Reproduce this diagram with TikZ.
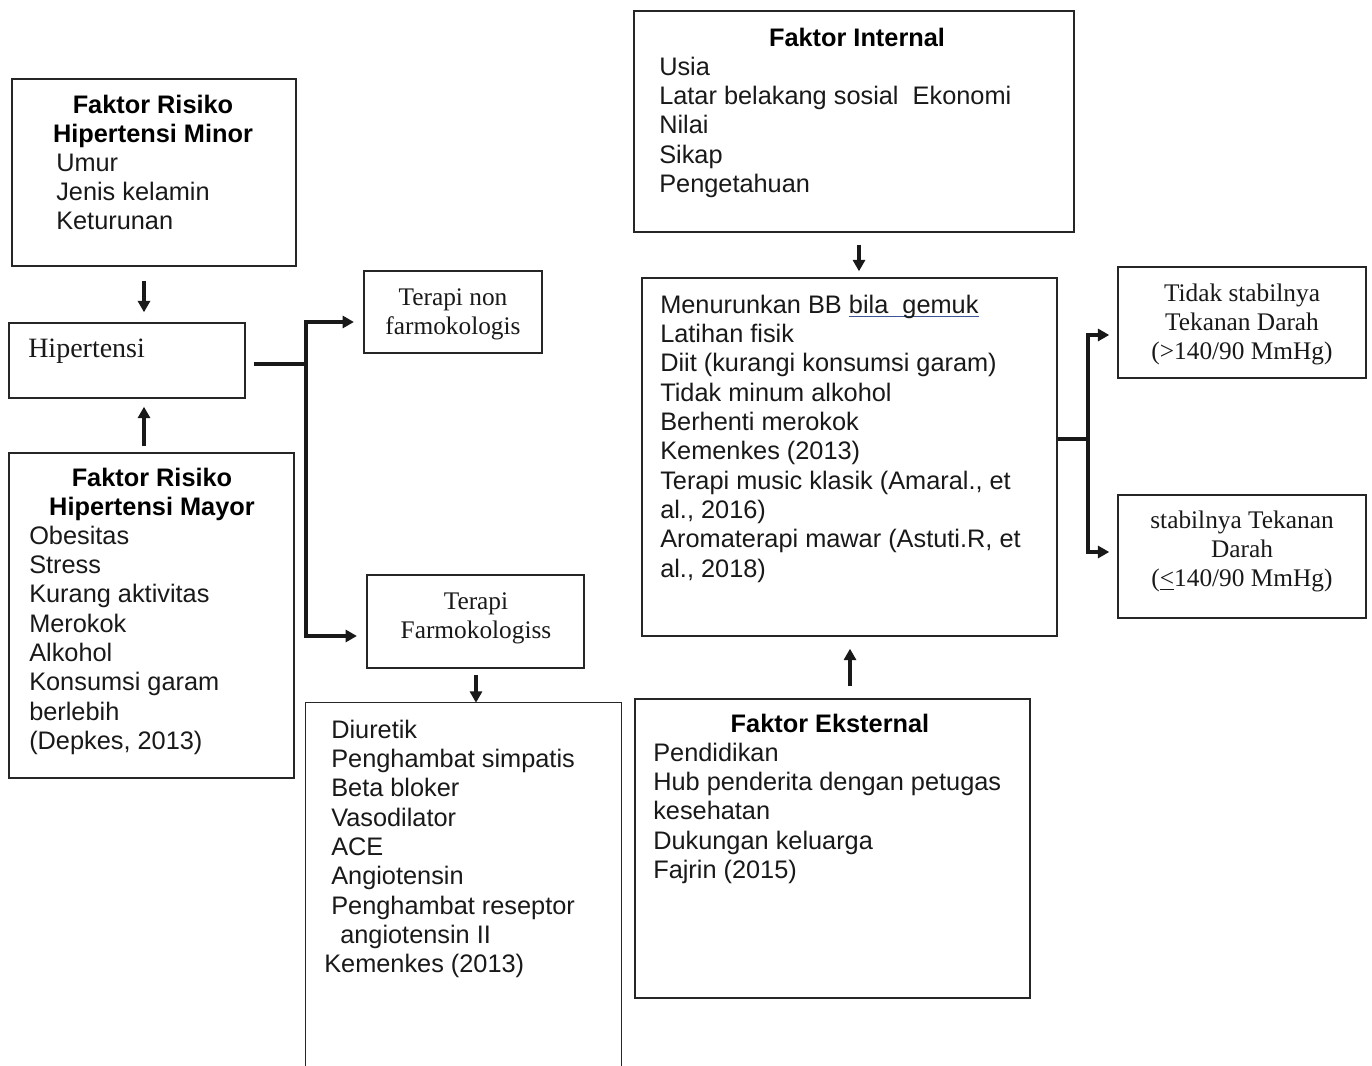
\documentclass[tikz,border=0pt]{standalone}
\usepackage{fontspec}
\setmainfont{Liberation Serif}
\newfontfamily\arialf{Liberation Sans}
\usetikzlibrary{arrows.meta,fit}
\definecolor{ulc}{RGB}{60,85,150}
\newcommand\fs{\rule{0pt}{15.4pt}}
\newcommand\ulbl[1]{\setbox0\hbox{#1}\rlap{\color{ulc}\rule[-3pt]{\wd0}{1.1pt}}#1}
\begin{document}
\begin{tikzpicture}[x=0.75pt,y=-0.75pt,
  box/.style={draw=black!85, line width=1.1pt, inner sep=0pt},
  sa/.style={font=\arialf\fontsize{19}{22}\selectfont, inner sep=0pt, text=black!90},
  sab/.style={font=\arialf\bfseries\fontsize{19}{22}\selectfont, inner sep=0pt, text=black},
  se/.style={font=\fontsize{19}{22}\selectfont, inner sep=0pt, text=black!90},
  tl/.style={anchor=north west, align=left},
  tc/.style={anchor=north, align=center},
  conn/.style={line width=2.4pt, draw=black!90},
  arr/.style={conn, -{Triangle[length=8.5pt,width=9pt]}}]
\path[fill=white, use as bounding box] (0,0) rectangle (1372,1066);

% boxes
\node[box, fit={(12,79) (296,266)}] (minor) {};
\node[box, fit={(9,323) (245,398)}] (hip) {};
\node[box, fit={(9,453) (294,778)}] (mayor) {};
\node[box, fit={(364,271) (542,353)}] (tn) {};
\node[box, fit={(367,575) (584,668)}] (tf) {};
\node[inner sep=0pt, fit={(306,703) (621,1066)}] (drug) {};
\draw[draw=black!85, line width=1.1pt] ([yshift=-2pt]drug.south west) -- (drug.north west) -- (drug.north east) -- ([yshift=-2pt]drug.south east);
\node[box, fit={(634,11) (1074,232)}] (intl) {};
\node[box, fit={(642,278) (1057,636)}] (mid) {};
\node[box, fit={(635,699) (1030,998)}] (ext) {};
\node[box, fit={(1118,267) (1366,378)}] (ts) {};
\node[box, fit={(1118,495) (1366,618)}] (st) {};

% texts
\node[sab,tc] (minorT) at (153,92.5) {\fs Faktor Risiko\\Hipertensi Minor};
\node[sa,tl] (minorL) at (56,150.5) {\fs Umur\\Jenis kelamin\\Keturunan};
\node[se,tl,font=\fontsize{21}{24}\selectfont] (hipT) at (28,336.5) {\fs Hipertensi};
\node[sab,tc] (mayorT) at (152,465.5) {\fs Faktor Risiko\\Hipertensi Mayor};
\node[sa,tl] (mayorL) at (29,523.5) {\fs Obesitas\\Stress\\Kurang aktivitas\\Merokok\\Alkohol\\Konsumsi garam\\berlebih\\(Depkes, 2013)};
\node[se,tc] (tnT) at (453,284.5) {\fs Terapi non\\farmokologis};
\node[se,tc] (tfT) at (476,588.5) {\fs Terapi\\Farmokologiss};
\node[sa,tl] (drugL) at (331,717.5) {\fs Diuretik\\Penghambat simpatis\\Beta bloker\\Vasodilator\\ACE\\Angiotensin\\Penghambat reseptor\\\hspace*{6.75pt}angiotensin II\\\hspace*{-5.25pt}Kemenkes (2013)};
\node[sab,tc] (intlT) at (857,25.5) {\fs Faktor Internal};
\node[sa,tl] (intlL) at (659,54.5) {\fs Usia\\Latar belakang sosial\ \ Ekonomi\\Nilai\\Sikap\\Pengetahuan};
\node[sa,tl] (midL) at (660,292.5) {\fs Menurunkan BB \ulbl{bila\ \ gemuk}\\Latihan fisik\\Diit (kurangi konsumsi garam)\\Tidak minum alkohol\\Berhenti merokok\\Kemenkes (2013)\\Terapi music klasik (Amaral., et\\al., 2016)\\Aromaterapi mawar (Astuti.R, et\\al., 2018)};
\node[sab,tc] (extT) at (830,711.5) {\fs Faktor Eksternal};
\node[sa,tl] (extL) at (653,740.5) {\fs Pendidikan\\Hub penderita dengan petugas\\kesehatan\\Dukungan keluarga\\Fajrin (2015)};
\node[se,tc] (tsT) at (1242,280.5) {\fs Tidak stabilnya\\Tekanan Darah\\(>140/90 MmHg)};
\node[se,tc] (stT) at (1242,507.5) {\fs stabilnya Tekanan\\Darah\\(\underline{<}140/90 MmHg)};

% connectors
\coordinate (cx1) at (144,0);
\draw[arr, shorten <=10.5pt, shorten >=7.5pt] (minor.south -| cx1) -- (hip.north -| cx1);
\draw[arr, shorten <=4.5pt, shorten >=6pt] (mayor.north -| cx1) -- (hip.south -| cx1);

\coordinate (j1) at (306,364);
\coordinate (j1a) at (306,322);
\coordinate (j1b) at (306,636);
\draw[conn, shorten <=6pt] (hip.east |- j1) -- (j1);
\draw[arr, shorten >=7pt] (j1) -- (j1a) -- (tn.west |- j1a);
\draw[arr, shorten >=7pt] (j1) -- (j1b) -- (tf.west |- j1b);

\coordinate (cx2) at (476,0);
\draw[arr, shorten <=5pt, shorten >=0pt] (tf.south -| cx2) -- (drug.north -| cx2);

\coordinate (cx3) at (859,0);
\draw[arr, shorten <=9pt, shorten >=4.5pt] (intl.south -| cx3) -- (mid.north -| cx3);
\coordinate (cx4) at (850,0);
\draw[arr, shorten <=9pt, shorten >=9pt] (ext.north -| cx4) -- (mid.south -| cx4);

\coordinate (j2) at (1088,439);
\coordinate (j2a) at (1088,335);
\coordinate (j2b) at (1088,552);
\draw[conn] (mid.east |- j2) -- (j2);
\draw[arr, shorten >=6pt] (j2) -- (j2a) -- (ts.west |- j2a);
\draw[arr, shorten >=6pt] (j2) -- (j2b) -- (st.west |- j2b);
\end{tikzpicture}
\end{document}
